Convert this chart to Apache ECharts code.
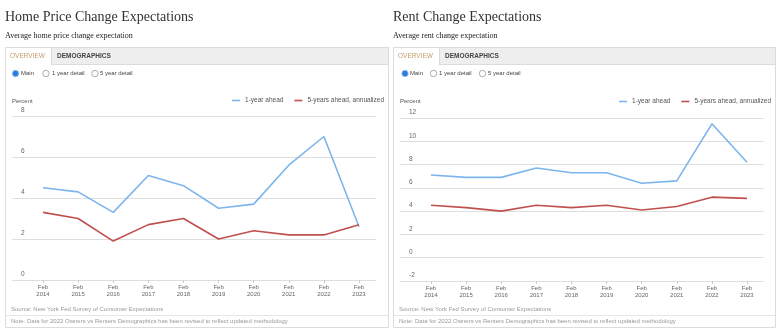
<!DOCTYPE html>
<html>
<head>
<meta charset="utf-8">
<script src="https://cdn.jsdelivr.net/npm/echarts@6/dist/echarts.min.js"></script>
<style>html,body{margin:0;padding:0;background:#fff;}#c{width:780px;height:330px;}</style>
</head>
<body>
<div id="c"></div>
<script>
const years = [2014, 2015, 2016, 2017, 2018, 2019, 2020, 2021, 2022, 2023];
const homeOneYear = [4.5, 4.3, 3.3, 5.1, 4.6, 3.5, 3.7, 5.6, 7.0, 2.6];
const homeFiveYear = [3.3, 3.0, 1.9, 2.7, 3.0, 2.0, 2.4, 2.2, 2.2, 2.7];
const rentOneYear = [7.1, 6.9, 6.9, 7.7, 7.3, 7.3, 6.4, 6.6, 11.5, 8.2];
const rentFiveYear = [4.5, 4.3, 4.0, 4.5, 4.3, 4.5, 4.1, 4.4, 5.2, 5.1];
const homeYTicks = [0, 2, 4, 6, 8];
const rentYTicks = [-2, 0, 2, 4, 6, 8, 10, 12];
const seriesNames = ['1-year ahead', '5-years ahead, annualized'];

const BLUE = '#7cb5ec';
const RED = '#c0504d';
const SANS = 'Liberation Sans, Arial, sans-serif';
const SERIF = 'Liberation Serif, Times New Roman, serif';

function pairs(vals) { return years.map((y, i) => [y, vals[i]]); }

function xAxisFor(gi) {
  return {
    type: 'value', gridIndex: gi, min: 2013.117, max: 2023.484,
    axisLine: { show: false, onZero: false },
    splitLine: { show: false },
    axisTick: { show: true, customValues: years, length: 3, lineStyle: { color: '#ccc' } },
    axisLabel: { customValues: years, formatter: v => 'Feb\n' + v, fontSize: 6, color: '#666', fontFamily: SANS, lineHeight: 7, margin: 4 }
  };
}
function yAxisFor(gi, ticks) {
  return {
    type: 'value', gridIndex: gi, min: ticks[0], max: ticks[ticks.length - 1], interval: 2,
    axisLine: { show: false }, axisTick: { show: false },
    splitLine: { lineStyle: { color: '#dedede', width: 1 } },
    axisLabel: { inside: true, margin: 9, verticalAlign: 'bottom', padding: [0, 0, 2, 0], fontSize: 6.5, color: '#666', fontFamily: SANS }
  };
}
function line(name, gi, vals, color) {
  return { name, type: 'line', xAxisIndex: gi, yAxisIndex: gi, data: pairs(vals), symbol: 'none', lineStyle: { color, width: 1.6 }, itemStyle: { color }, silent: true, animation: false };
}

function panel(x0, x1, title, subtitle, radios, tabOverW) {
  const g = [];
  g.push({ type: 'text', left: x0, top: 10, style: { text: title, font: '14px ' + SERIF, fill: '#333' } });
  g.push({ type: 'text', left: x0, top: 32, style: { text: subtitle, font: '8px ' + SERIF, fill: '#222' } });
  // frame
  g.push({ type: 'rect', shape: { x: x0 + 0.5, y: 47.5, width: x1 - x0, height: 280 }, style: { fill: 'none', stroke: '#dcdcdc', lineWidth: 1 } });
  // tab bar
  g.push({ type: 'rect', shape: { x: x0 + 0.5, y: 47.5, width: x1 - x0, height: 17 }, style: { fill: '#eeeeee', stroke: '#dcdcdc', lineWidth: 1 } });
  g.push({ type: 'rect', shape: { x: x0 + 0.5, y: 47.5, width: tabOverW, height: 17.5 }, style: { fill: '#ffffff', stroke: '#dcdcdc', lineWidth: 1 } });
  g.push({ type: 'rect', shape: { x: x0 + 1, y: 64, width: tabOverW - 1, height: 2 }, style: { fill: '#ffffff' } });
  g.push({ type: 'text', x: x0 + 5, y: 56, style: { text: 'OVERVIEW', font: '6.5px ' + SANS, fill: '#c49a6c', verticalAlign: 'middle' } });
  g.push({ type: 'text', x: x0 + tabOverW + 6, y: 56, style: { text: 'DEMOGRAPHICS', font: 'bold 6.5px ' + SANS, fill: '#444', verticalAlign: 'middle' } });
  // radios
  radios.forEach((r, i) => {
    if (i === 0) {
      g.push({ type: 'circle', shape: { cx: r.cx, cy: 73.5, r: 3.2 }, style: { fill: '#2b7de0', stroke: '#9cc2ee', lineWidth: 0.8 } });
    } else {
      g.push({ type: 'circle', shape: { cx: r.cx, cy: 73.5, r: 3.2 }, style: { fill: '#fff', stroke: '#888', lineWidth: 0.7 } });
    }
    g.push({ type: 'text', x: r.tx, y: 73.5, style: { text: r.label, font: '6px ' + SANS, fill: '#444', verticalAlign: 'middle' } });
  });
  g.push({ type: 'text', x: x0 + 7, y: 101, style: { text: 'Percent', font: '6px ' + SANS, fill: '#555', verticalAlign: 'middle' } });
  g.push({ type: 'text', x: x0 + 6, y: 309, style: { text: 'Source: New York Fed Survey of Consumer Expectations', font: '6px ' + SANS, fill: '#999', verticalAlign: 'middle' } });
  g.push({ type: 'line', shape: { x1: x0 + 1, y1: 315.5, x2: x1, y2: 315.5 }, style: { stroke: '#e6e6e6', lineWidth: 1 } });
  g.push({ type: 'text', x: x0 + 6, y: 321, style: { text: 'Note: Data for 2022 Owners vs Renters Demographics has been revised to reflect updated methodology', font: '6px ' + SANS, fill: '#999', verticalAlign: 'middle' } });
  return g;
}

const graphics = [].concat(
  panel(5, 388, 'Home Price Change Expectations', 'Average home price change expectation',
    [{ cx: 15.5, tx: 21, label: 'Main' }, { cx: 46, tx: 52, label: '1 year detail' }, { cx: 95, tx: 100, label: '5 year detail' }], 46),
  panel(393, 775, 'Rent Change Expectations', 'Average rent change expectation',
    [{ cx: 405, tx: 410, label: 'Main' }, { cx: 433.5, tx: 439, label: '1 year detail' }, { cx: 482.5, tx: 488, label: '5 year detail' }], 46)
);

const chart = echarts.init(document.getElementById('c'), null, { renderer: 'canvas' });
chart.setOption({
  animation: false,
  graphic: graphics,
  legend: [
    { data: seriesNames, right: 780 - 384, top: 97, itemWidth: 8, itemHeight: 1.6, itemGap: 11, icon: 'rect', textStyle: { fontSize: 6.5, color: '#555', fontFamily: SANS }, selectedMode: false, padding: 0 },
    { data: seriesNames, right: 780 - 771, top: 98, itemWidth: 8, itemHeight: 1.6, itemGap: 11, icon: 'rect', textStyle: { fontSize: 6.5, color: '#555', fontFamily: SANS }, selectedMode: false, padding: 0 }
  ],
  grid: [
    { left: 12, right: 780 - 376, top: 116, height: 164 },
    { left: 400, right: 780 - 764, top: 118, height: 163 }
  ],
  xAxis: [xAxisFor(0), xAxisFor(1)],
  yAxis: [yAxisFor(0, homeYTicks), yAxisFor(1, rentYTicks)],
  series: [
    line(seriesNames[0], 0, homeOneYear, BLUE),
    line(seriesNames[1], 0, homeFiveYear, RED),
    line(seriesNames[0], 1, rentOneYear, BLUE),
    line(seriesNames[1], 1, rentFiveYear, RED)
  ]
});
</script>
</body>
</html>
